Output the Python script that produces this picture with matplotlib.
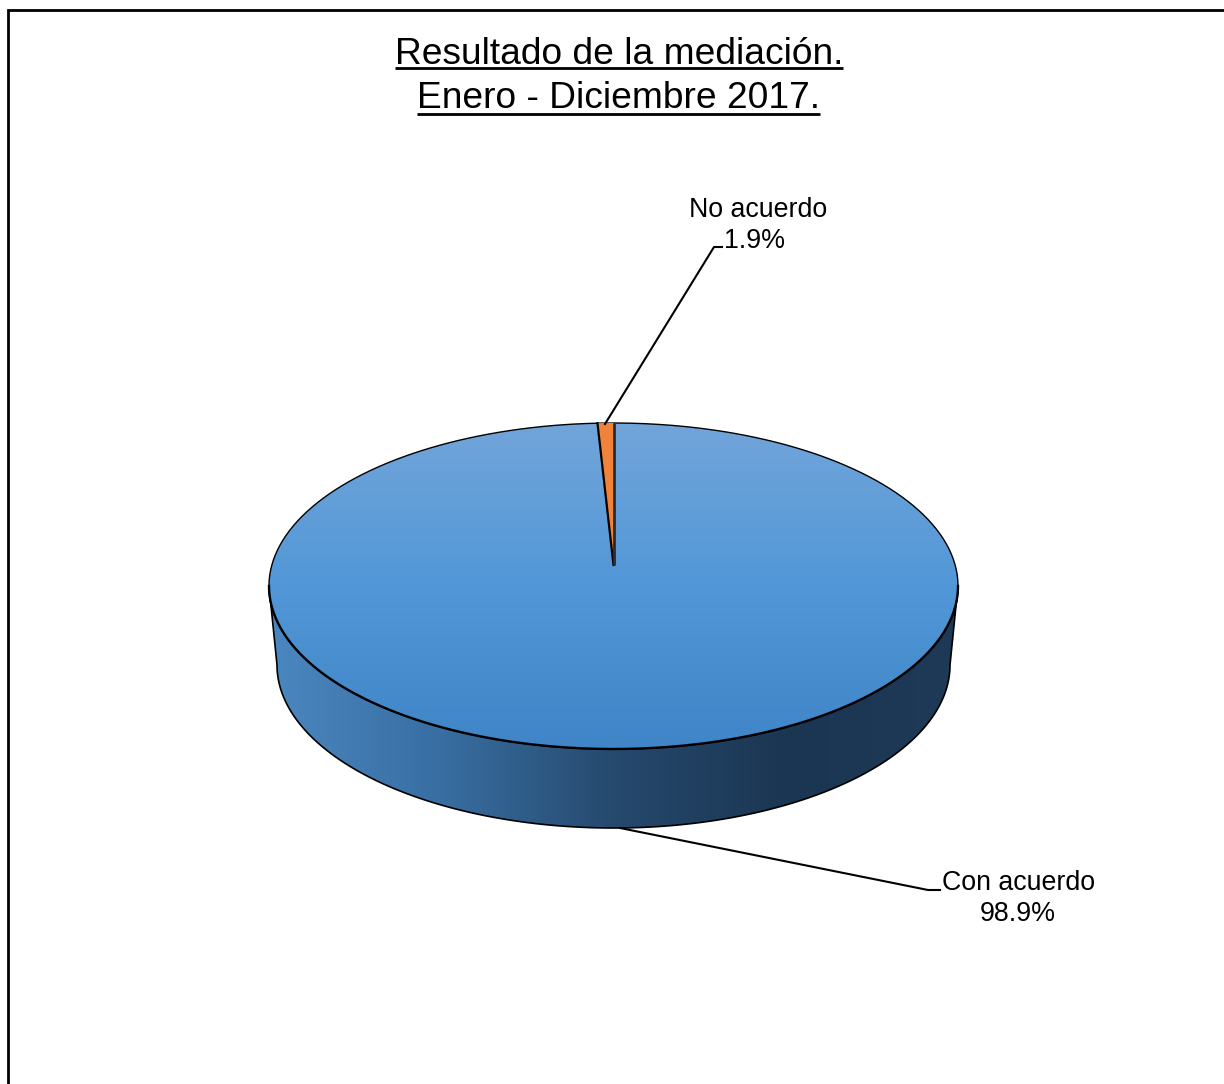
"""Pie chart in fake 3D: result of the mediation, Jan-Dec 2017."""
import matplotlib

matplotlib.use("Agg")
import matplotlib.pyplot as plt
import numpy as np
from matplotlib.colors import LinearSegmentedColormap
from matplotlib.patches import Ellipse, Polygon

TITLE_LINES = ["Resultado de la mediación.", "Enero - Diciembre 2017."]
CATEGORIES = ["Con acuerdo", "No acuerdo"]
PERCENT_LABELS = [98.9, 1.9]        # what the labels print
DRAWN_SHARES = [99.26, 0.74]        # what the slices really measure in the picture

W, H = 1224, 1084
CX, CY, RX, RY = 613.5, 586, 344.5, 163     # top face
BOT_CY, BOT_RX = 665, 336.5                 # bottom rim
APEX_Y = 565                                # slices meet above the ellipse centre
FONT = "Liberation Sans"
ORANGE = "#f0823a"

top_cmap = LinearSegmentedColormap.from_list("top", ["#72a5da", "#5297d7", "#3f85c7"])
side_cmap = LinearSegmentedColormap.from_list(
    "side", [(0, "#4b87c0"), (0.25, "#386ea2"), (0.5, "#26496e"),
             (0.75, "#1b3652"), (1, "#1f3a56")])


def rim(cx, cy, rx, ry, t):
    """t is clockwise from the top of the ellipse, in radians."""
    return cx + rx * np.sin(t), cy - ry * np.cos(t)


def draw_pie(ax):
    # side wall
    t = np.linspace(np.pi / 2, 3 * np.pi / 2, 300)
    bx, by = rim(CX, BOT_CY, BOT_RX, RY, t)
    tx, ty = rim(CX, CY, RX, RY, t[::-1])
    side = Polygon(np.column_stack([np.r_[bx, tx], np.r_[by, ty]]), closed=True,
                   facecolor="none", edgecolor="black", linewidth=1.2, zorder=3)
    ax.add_patch(side)
    grad = np.linspace(0, 1, 256).reshape(1, -1)
    im = ax.imshow(grad, extent=(CX - RX, CX + RX, BOT_CY + RY, CY), cmap=side_cmap,
                   aspect="auto", zorder=2)
    im.set_clip_path(side)

    # top face, outline thin at the back and heavier along the front
    face = Ellipse((CX, CY), 2 * RX, 2 * RY, facecolor="none", edgecolor="none", zorder=5)
    ax.add_patch(face)
    grad = np.linspace(0, 1, 256).reshape(-1, 1)
    im = ax.imshow(grad, extent=(CX - RX, CX + RX, CY + RY, CY - RY), cmap=top_cmap,
                   aspect="auto", zorder=4)
    im.set_clip_path(face)
    t = np.linspace(-np.pi / 2, np.pi / 2, 300)
    ax.plot(*rim(CX, CY, RX, RY, t), color="black", lw=1.0, zorder=5)
    t = np.linspace(np.pi / 2, 3 * np.pi / 2, 300)
    ax.plot(*rim(CX, CY, RX, RY, t), color="black", lw=1.7, zorder=5)

    # small slice, measured back from 12 o'clock
    angle = 2 * np.pi * DRAWN_SHARES[1] / sum(DRAWN_SHARES)
    t = np.linspace(-angle, 0, 10)
    wx, wy = rim(CX, CY, RX, RY, t)
    wedge = Polygon(np.column_stack([np.r_[CX, wx], np.r_[APEX_Y, wy]]), closed=True,
                    facecolor=ORANGE, edgecolor="none", zorder=6)
    ax.add_patch(wedge)
    ax.plot([wx[0], CX], [wy[0], APEX_Y], color="black", lw=1.6, zorder=7)
    ax.plot([CX, CX], [wy[-1], APEX_Y], color="#2b2b2b", lw=2.0, zorder=7,
            solid_capstyle="butt")


def put_title(ax, fig):
    renderer = fig.canvas.get_renderer()
    for line, x, y, base in zip(TITLE_LINES, [619, 618.5], [55, 98], [68, 113.5]):
        txt = ax.text(x, y, line, ha="center", va="center", fontsize=26.7,
                      family=FONT, color="black")
        box = txt.get_window_extent(renderer)
        ax.plot([box.x0, box.x1], [base, base], color="black", lw=2.0,
                solid_capstyle="butt")


def make_figure(out):
    fig = plt.figure(figsize=(W / 100, H / 100), dpi=100, facecolor="white")
    ax = fig.add_axes([0, 0, 1, 1])
    draw_pie(ax)
    ax.set_xlim(0, W)
    ax.set_ylim(H, 0)
    ax.axis("off")

    # outer frame: only top and left show in the crop
    ax.plot([7.5, 7.5, W], [H, 10, 10], color="black", lw=2.0, solid_joinstyle="miter")

    put_title(ax, fig)

    # leader lines and labels
    ax.plot([620, 928, 940], [828, 890, 890], color="black", lw=1.5, zorder=8)
    ax.plot([605, 714, 722], [424, 247, 247], color="black", lw=1.5, zorder=8)
    for cat, val, x, y in zip(CATEGORIES, PERCENT_LABELS, [1019, 758], [883, 210]):
        ax.text(x, y, cat, ha="center", va="center", fontsize=19.3, family=FONT)
        ax.text(x - 1 if val > 50 else x - 3, y + 31, f"{val:.1f}%", ha="center",
                va="center", fontsize=19.3, family=FONT)

    fig.savefig(out, dpi=100)
    plt.close(fig)


if __name__ == "__main__":
    make_figure("out.png")
